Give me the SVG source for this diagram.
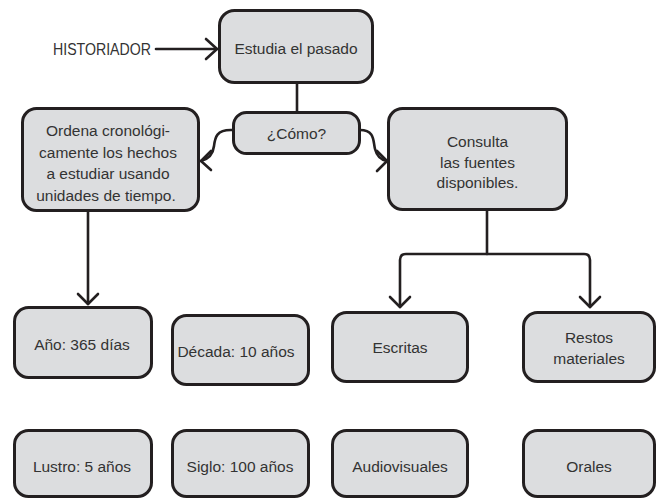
<svg xmlns="http://www.w3.org/2000/svg" width="657" height="499" viewBox="0 0 657 499">
<style>
.box{fill:#dcdddf;stroke:#231f20;stroke-width:3}
.t{font-family:"Liberation Sans",Arial,sans-serif;font-size:15.5px;fill:#333;text-anchor:middle}
.c{fill:none;stroke:#231f20;stroke-width:2.6;stroke-linejoin:round;stroke-linecap:round}
</style>
<rect width="657" height="499" fill="#fff"/>
<g id="connectors">
<path class="c" d="M156,49 H217"/>
<path class="c" d="M206,39 L217,49 L206,59"/>
<path class="c" d="M297,83 V112"/>
<path class="c" d="M233,130 C216,129 215,138 214,146 C213,155 208,159 201,161"/>
<path class="c" d="M211,151 L201,161 L211,170"/>
<path class="c" d="M360,130 C375,130 373,141 375,149 C377,157 381,160 387,161"/>
<path class="c" d="M377,151 L387,161 L377,171"/>
<path class="c" d="M88,211 V304"/>
<path class="c" d="M78,294 L88,304 L98,294"/>
<path class="c" d="M487,210 V254"/>
<path class="c" d="M400,307 V260 Q400,254 406,254 H584 Q590,254 590,260 V307"/>
<path class="c" d="M390,297 L400,307 L410,297"/>
<path class="c" d="M580,297 L590,307 L600,297"/>
</g>
<g id="historiador"><text class="t" x="53" y="55" style="text-anchor:start;font-size:16.5px" textLength="98" lengthAdjust="spacingAndGlyphs">HISTORIADOR</text></g>
<g id="estudia"><rect class="box" x="219.5" y="10.5" width="153" height="72" rx="15"/><text class="t" x="296" y="54">Estudia el pasado</text></g>
<g id="como"><rect class="box" x="233.5" y="112.5" width="126" height="41" rx="13"/><text class="t" x="296.5" y="139">¿Cómo?</text></g>
<g id="ordena"><rect class="box" x="22.5" y="108.5" width="176" height="102" rx="14"/>
<text class="t" x="108" y="136">Ordena cronológi-</text>
<text class="t" x="108" y="157.5">camente los hechos</text>
<text class="t" x="108" y="179">a estudiar usando</text>
<text class="t" x="106" y="200.5">unidades de tiempo.</text></g>
<g id="consulta"><rect class="box" x="388.5" y="108.5" width="178" height="101" rx="14"/>
<text class="t" x="477.5" y="147">Consulta</text>
<text class="t" x="477.5" y="167.5">las fuentes</text>
<text class="t" x="477.5" y="188">disponibles.</text></g>
<g id="anio"><rect class="box" x="14.5" y="307.5" width="137" height="70" rx="14"/><text class="t" x="82" y="350">Año: 365 días</text></g>
<g id="decada"><rect class="box" x="172.5" y="315.5" width="136" height="69" rx="14"/><text class="t" x="236" y="357">Década: 10 años</text></g>
<g id="escritas"><rect class="box" x="332.5" y="312.5" width="135" height="69" rx="14"/><text class="t" x="400" y="353">Escritas</text></g>
<g id="restos"><rect class="box" x="523.5" y="312.5" width="131" height="69" rx="14"/>
<text class="t" x="589" y="343">Restos</text><text class="t" x="589" y="364">materiales</text></g>
<g id="lustro"><rect class="box" x="14.5" y="430.5" width="137" height="66" rx="14"/><text class="t" x="82" y="472">Lustro: 5 años</text></g>
<g id="siglo"><rect class="box" x="172.5" y="430.5" width="136" height="66" rx="14"/><text class="t" x="240" y="472">Siglo: 100 años</text></g>
<g id="audiovisuales"><rect class="box" x="332.5" y="430.5" width="135" height="66" rx="14"/><text class="t" x="400" y="472">Audiovisuales</text></g>
<g id="orales"><rect class="box" x="523.5" y="430.5" width="131" height="66" rx="14"/><text class="t" x="589" y="472">Orales</text></g>
</svg>
